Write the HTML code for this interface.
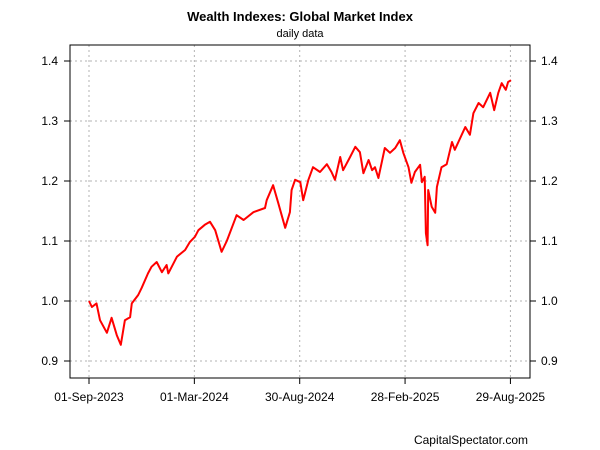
<!DOCTYPE html>
<html><head><meta charset="utf-8"><style>
body{margin:0;background:#fff;}
svg{display:block;font-family:"Liberation Sans",Arial,sans-serif;}
</style></head><body>
<svg id="chart" width="600" height="450" viewBox="0 0 600 450">
<rect width="600" height="450" fill="#fff"/>
<text x="300" y="21" text-anchor="middle" font-size="13" font-weight="bold">Wealth Indexes: Global Market Index</text>
<text x="300" y="37" text-anchor="middle" font-size="11">daily data</text>
<g id="grid"></g>
<g id="axes"></g>
<path id="line" fill="none" stroke="#ff0000" stroke-width="2" stroke-linejoin="round"/>
<rect x="70" y="45" width="460" height="333" fill="none" stroke="#000" stroke-width="1"/>
<text x="528" y="444" text-anchor="end" font-size="12">CapitalSpectator.com</text>
</svg>
<script>
const days=[0,5,13,19,31,39,48,55,62,71,74,85,91,102,108,117,126,134,137,152,166,174,183,189,200,209,218,229,238,255,267,284,304,307,318,327,339,347,350,356,365,370,379,387,399,411,419,425,434,439,451,460,468,474,483,489,494,500,511,520,529,537,543,552,557,563,572,575,580,582,585,586,592,598,601,609,618,627,632,650,658,664,673,681,693,700,707,713,720,724,729];
const values=[1.0,0.99,0.996,0.968,0.947,0.972,0.943,0.927,0.968,0.973,0.996,1.01,1.022,1.046,1.057,1.065,1.048,1.06,1.046,1.074,1.085,1.098,1.107,1.118,1.127,1.132,1.118,1.082,1.1,1.143,1.135,1.148,1.155,1.168,1.193,1.163,1.122,1.148,1.185,1.202,1.198,1.168,1.202,1.223,1.215,1.228,1.215,1.202,1.24,1.218,1.24,1.257,1.248,1.213,1.235,1.218,1.223,1.205,1.255,1.247,1.255,1.268,1.247,1.223,1.197,1.215,1.227,1.198,1.207,1.113,1.093,1.185,1.157,1.147,1.19,1.223,1.228,1.265,1.252,1.29,1.277,1.313,1.33,1.323,1.347,1.318,1.347,1.363,1.352,1.365,1.368];
const yTicks=[0.9,1.0,1.1,1.2,1.3,1.4];
const yTickLabels=["0.9","1.0","1.1","1.2","1.3","1.4"];
const xTickDays=[0,182,364,546,728];
const xTickLabels=["01-Sep-2023","01-Mar-2024","30-Aug-2024","28-Feb-2025","29-Aug-2025"];

const NS="http://www.w3.org/2000/svg";
const xS=d=>89+d*(422/729);
const yS=v=>301-(v-1.0)*600;
const grid=document.getElementById('grid'), axes=document.getElementById('axes');
function mk(tag,attrs,parent){const e=document.createElementNS(NS,tag);for(const k in attrs)e.setAttribute(k,attrs[k]);parent.appendChild(e);return e;}
yTicks.forEach((v,i)=>{
  const y=yS(v);
  const g=mk('line',{x1:70,x2:530,y1:y,y2:y,stroke:'#b3b3b3','stroke-dasharray':'2,3'},grid);
  
  
  const t1=mk('line',{x1:64,x2:70,y1:y,y2:y,stroke:'#000'},axes);
  
  
  const t2=mk('line',{x1:530,x2:536,y1:y,y2:y,stroke:'#000'},axes);
  
  
  const l1=mk('text',{x:58,y:y+4,'text-anchor':'end','font-size':12},axes);
  l1.textContent=yTickLabels[i];
  
  
  const l2=mk('text',{x:541,y:y+4,'text-anchor':'start','font-size':12},axes);
  l2.textContent=yTickLabels[i];
  
  
});
xTickDays.forEach((d,i)=>{
  const x=xS(d);
  const g=mk('line',{x1:x,x2:x,y1:45,y2:378,stroke:'#b3b3b3','stroke-dasharray':'2,3'},grid);
  
  
  const t=mk('line',{x1:x,x2:x,y1:378,y2:384,stroke:'#000'},axes);
  
  
  const l=mk('text',{x:x,y:401,'text-anchor':'middle','font-size':12},axes);
  l.textContent=xTickLabels[i];
  
  
});
let dstr='';
days.forEach((d,i)=>{dstr+=(i?'L':'M')+xS(d).toFixed(1)+','+yS(values[i]).toFixed(1);});
document.getElementById('line').setAttribute('d',dstr);
</script>
</body></html>
